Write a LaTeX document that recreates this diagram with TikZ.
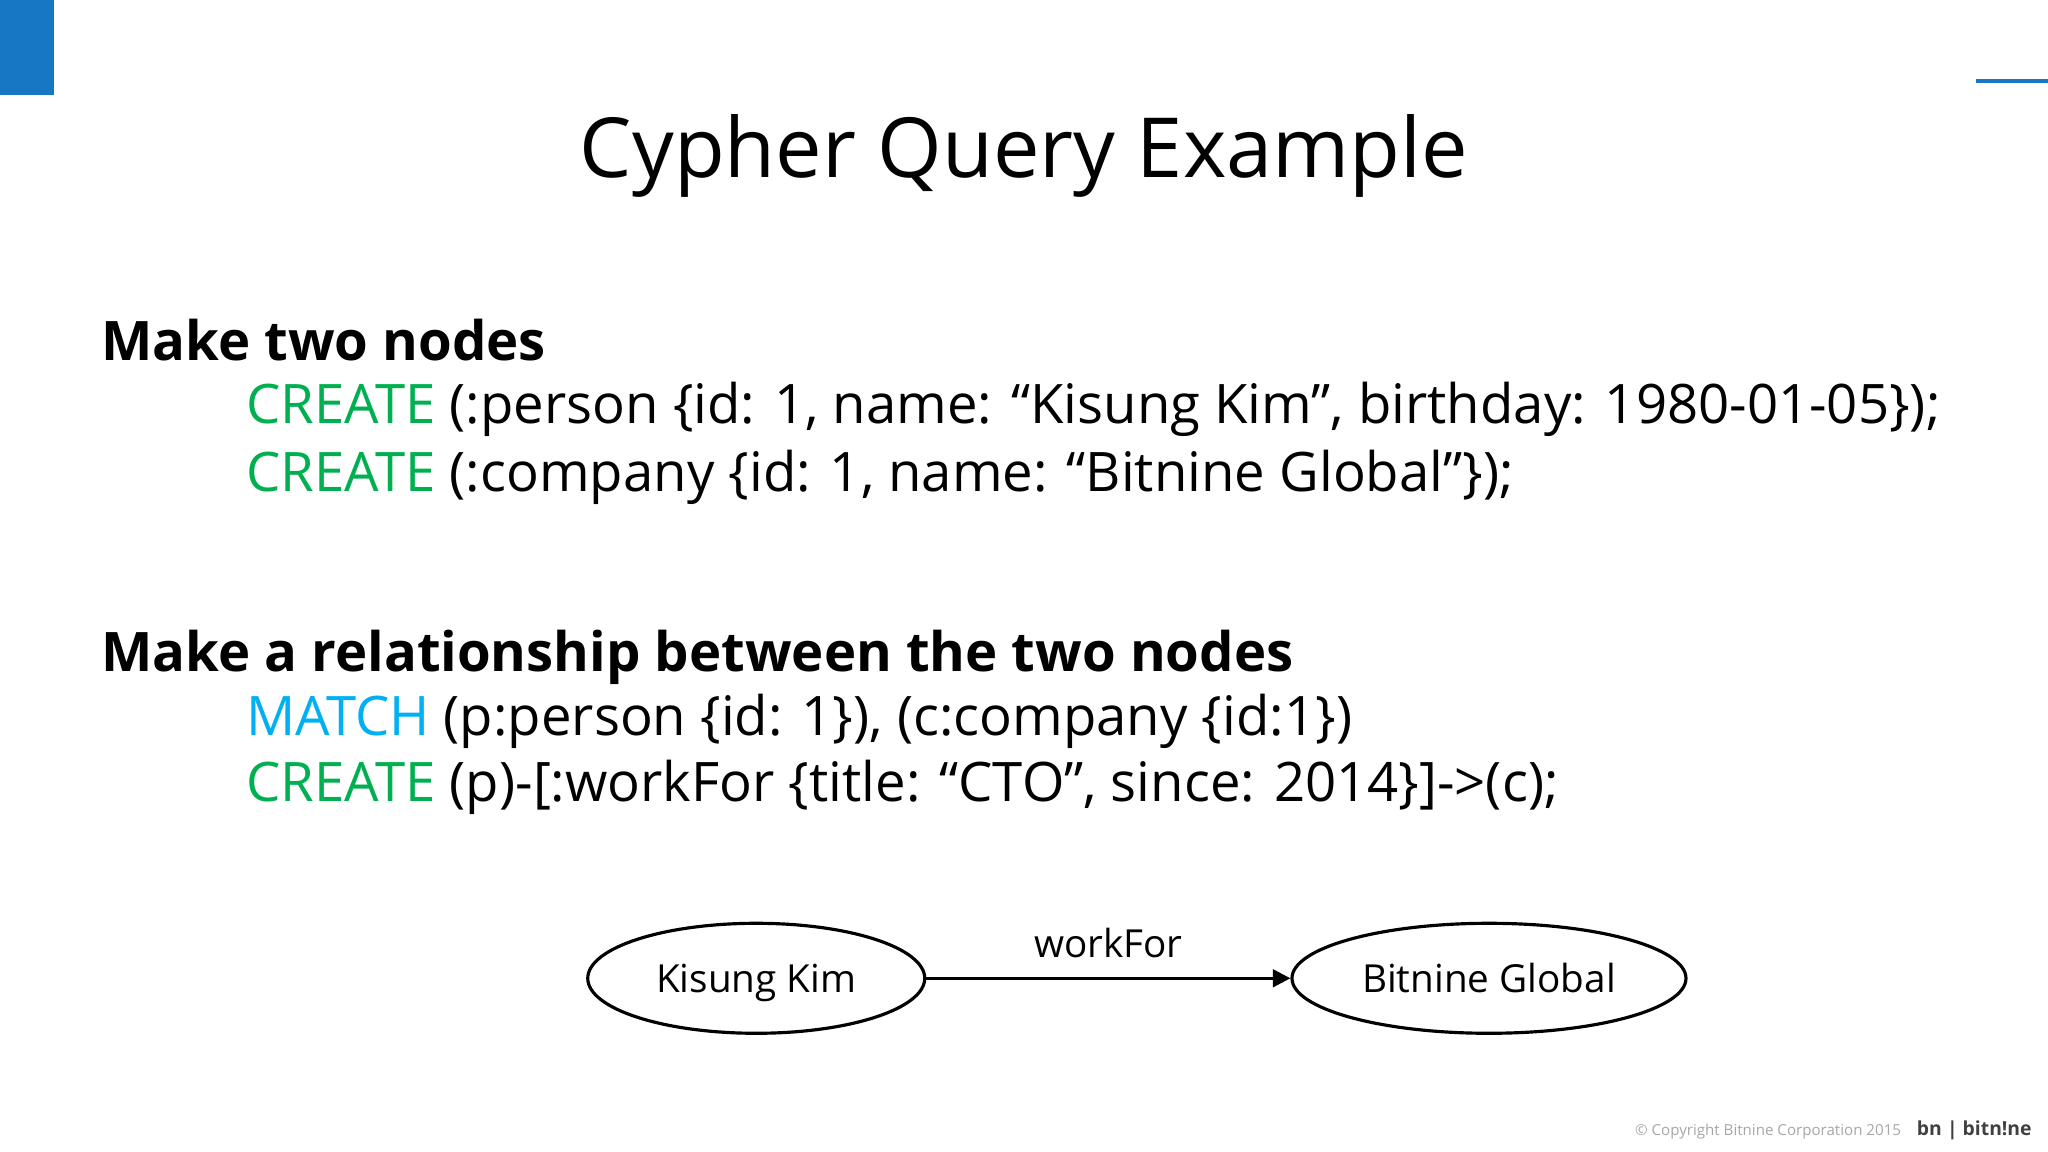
\documentclass[tikz,border=0pt]{standalone}
\usepackage{fontspec}
\setmainfont{Open Sans}
\newfontfamily\titlefont{Open Sans}
\usetikzlibrary{shapes.geometric,arrows.meta}
\definecolor{cgreen}{HTML}{00B050}
\definecolor{ccyan}{HTML}{00B0F0}
\definecolor{cblue}{HTML}{1777C5}
\tikzset{
  txt/.style={anchor=base west,inner sep=0pt,font=\fontsize{15.5}{19}\selectfont},
  head/.style={txt,font=\fontsize{15.5}{19}\selectfont\bfseries},
  ell/.style={draw,ellipse,line width=0.9pt,inner sep=0pt,text height=10.5pt,text depth=2.5pt,font=\fontsize{11}{13}\selectfont},
  logotxt/.style={inner sep=0pt,text=black!75,font=\fontsize{5.5}{7}\selectfont\bfseries},
}
\begin{document}
\begin{tikzpicture}[x=0.013061cm,y=-0.013061cm]
\useasboundingbox (0,0) rectangle (1568,882);
\fill[cblue] (0,0) rectangle (41,73);
\draw[cblue,line width=1.2pt] (1513,62) -- (1568,62);
\node[anchor=base,inner sep=0pt,font=\titlefont\fontsize{23.6}{28}\selectfont] (title) at (784,136) {Cypher Query Example};
\node[head] (h1) at (77,276) {Make two nodes};
\node[txt] (l1) at (188,324) {\textcolor{cgreen}{CREATE} (:person \{id: 1, name: “Kisung Kim”, birthday: 1980-01-05\});};
\node[txt] (l2) at (188,376) {\textcolor{cgreen}{CREATE} (:company \{id: 1, name: “Bitnine Global”\});};
\node[head] (h2) at (77,514) {Make a relationship between the two nodes};
\node[txt] (l3) at (188,563) {\textcolor{ccyan}{MATCH} (p:person \{id: 1\}), (c:company \{id:1\})};
\node[txt] (l4) at (188,614) {\textcolor{cgreen}{CREATE} (p)-[:workFor \{title: “CTO”, since: 2014\}]->(c);};
\node[ell,minimum width=3.37cm,minimum height=1.1cm] (k) at (579,749) {Kisung Kim};
\node[ell,minimum width=3.94cm,minimum height=1.1cm] (b) at (1140,749) {Bitnine Global};
\draw[line width=0.9pt,-{Triangle[length=5pt,width=5pt]}] (k) -- node[above=2pt,font=\fontsize{11}{13}\selectfont] (wf) {workFor} (b);
\node[anchor=base east,inner sep=0pt,text=gray!70,font=\fontsize{4.3}{6}\selectfont] (copy) at (1456,869) {© Copyright Bitnine Corporation 2015};
\node[logotxt,anchor=base west] (bn) at (1467,869) {bn};
\node[logotxt,anchor=base east] (logo) at (1556,869) {| bitn!ne};
\end{tikzpicture}
\end{document}
